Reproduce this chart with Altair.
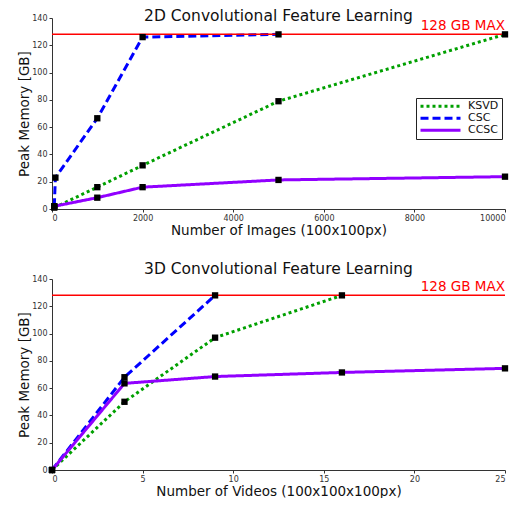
import altair as alt
import pandas as pd

series_order = ["KSVD", "CSC", "CCSC"]
colors = ["#00a000", "#0000ff", "#9100ff"]
dashes = [[3, 3], [8, 4], [1, 0]]

# 2D panel
ksvd2_x = [50, 1000, 2000, 5000, 10000]
ksvd2_y = [1, 16, 32, 79, 128]
csc2_x = [50, 75, 1000, 2000, 5000]
csc2_y = [2, 23, 66.5, 126, 128]
ccsc2_x = [50, 1000, 2000, 5000, 10000]
ccsc2_y = [2, 8.3, 16, 21.3, 23.7]

# 3D panel
ksvd3_x = [0, 4, 9, 16]
ksvd3_y = [0, 50, 97, 128]
csc3_x = [0, 4, 9]
csc3_y = [0, 68, 128]
ccsc3_x = [0, 4, 9, 16, 25]
ccsc3_y = [0, 63.5, 68.5, 71.5, 74.5]

max_gb = 128
max_label = "128 GB MAX"
yticks = [0, 20, 40, 60, 80, 100, 120, 140]
xticks2 = [0, 2000, 4000, 6000, 8000, 10000]
xticks3 = [0, 5, 10, 15, 20, 25]

FONT = "DejaVu Sans"


def frame(pairs):
    rows = []
    for name, xs, ys in pairs:
        for i, (x, y) in enumerate(zip(xs, ys)):
            rows.append({"x": x, "y": y, "series": name, "order": i})
    return pd.DataFrame(rows)


def axis(title, values, title_pad):
    return alt.Axis(values=values, tickCount=len(values), format="d", title=title, grid=False,
                    labelFontSize=8, titleFontSize=13.5, titleFontWeight="normal",
                    labelColor="#333", titleColor="#111", domainColor="#333",
                    tickColor="#333", tickSize=3, labelPadding=2, titlePadding=title_pad,
                    labelFont=FONT, titleFont=FONT, labelOverlap=False)


def panel(df, title, xtitle, xmax, xticks, show_legend, title_offset):
    xs = alt.X("x:Q", scale=alt.Scale(domain=[0, xmax], nice=False),
               axis=axis(xtitle, xticks, 1))
    ys = alt.Y("y:Q", scale=alt.Scale(domain=[0, 140], nice=False),
               axis=axis("Peak Memory [GB]", yticks, 0))
    if show_legend:
        leg = alt.Legend(title=None, orient="none", legendX=364, legendY=80,
                         strokeColor="#222", fillColor="white", padding=3,
                         symbolType="stroke", symbolSize=1600, symbolStrokeWidth=3,
                         labelFontSize=11, labelFont=FONT, labelColor="#111",
                         rowPadding=0, labelOffset=6, clipHeight=10.5)
    else:
        leg = None
    color = alt.Color("series:N", scale=alt.Scale(domain=series_order, range=colors),
                      legend=leg)
    dash = alt.StrokeDash("series:N", scale=alt.Scale(domain=series_order, range=dashes),
                          legend=leg)
    ref = pd.DataFrame({"y": [max_gb], "x": [xmax], "label": [max_label]})
    rule = alt.Chart(ref).mark_rule(color="#ff0000", strokeWidth=1.5).encode(y=ys)
    label = alt.Chart(ref).mark_text(color="#ff0000", fontSize=13.5,
                                     font=FONT, align="right", baseline="bottom", dy=-1).encode(
        x=xs, y=ys, text="label:N")
    lines = alt.Chart(df).mark_line(strokeWidth=3).encode(
        x=xs, y=ys, color=color, strokeDash=dash, order="order:Q",
        detail="series:N")
    pts = alt.Chart(df).mark_square(color="black", size=40, opacity=1).encode(x=xs, y=ys)
    return alt.layer(lines, rule, pts, label).properties(
        width=453, height=191,
        title=alt.TitleParams(title, fontSize=15.5, font=FONT, fontWeight="normal",
                              color="#111", offset=title_offset))


df2 = frame([("KSVD", ksvd2_x, ksvd2_y), ("CSC", csc2_x, csc2_y), ("CCSC", ccsc2_x, ccsc2_y)])
df3 = frame([("KSVD", ksvd3_x, ksvd3_y), ("CSC", csc3_x, csc3_y), ("CCSC", ccsc3_x, ccsc3_y)])

top = panel(df2, "2D Convolutional Feature Learning", "Number of Images (100x100px)",
            10000, xticks2, True, -10)
bottom = panel(df3, "3D Convolutional Feature Learning", "Number of Videos (100x100x100px)",
               25, xticks3, False, -2)

chart = alt.vconcat(top, bottom, spacing=24).resolve_scale(
    color="independent", strokeDash="independent").properties(
    padding={"left": 9, "top": 0, "right": 5, "bottom": 0}).configure_view(stroke=None)

chart.save("out.html", embed_options={"renderer": "svg", "actions": False})
